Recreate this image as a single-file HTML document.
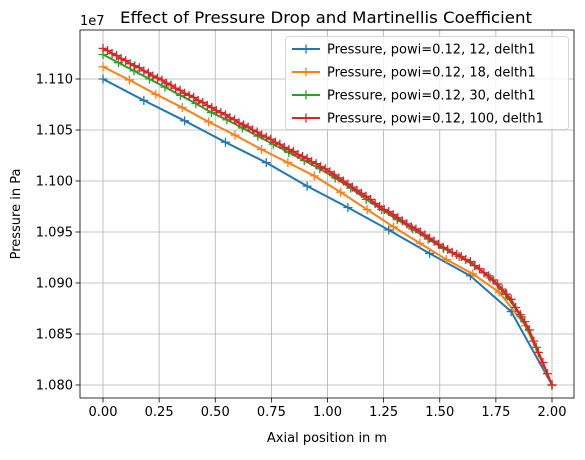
<!DOCTYPE html>
<html><head><meta charset="utf-8"><style>
body{margin:0;background:#fff;}
svg text{font-family:"DejaVu Sans","Liberation Sans",sans-serif;fill:#000;}
</style></head><body>
<svg id="chart" width="585" height="455" viewBox="0 0 585 455" xmlns="http://www.w3.org/2000/svg">
<rect width="585" height="455" fill="#fff"/>
<g id="grid"></g>
<g id="series"></g>
<g id="axes"></g>
<text x="326" y="23" text-anchor="middle" font-size="16" textLength="412" lengthAdjust="spacingAndGlyphs">Effect of Pressure Drop and Martinellis Coefficient</text>
<text x="327" y="442" text-anchor="middle" font-size="13">Axial position in m</text>
<text transform="translate(20,214) rotate(-90)" text-anchor="middle" font-size="13">Pressure in Pa</text>
<text x="80" y="25" font-size="13">1e7</text>
<g id="legend"></g>
</svg>
<script>
const xTicks=[0,0.25,0.5,0.75,1.0,1.25,1.5,1.75,2.0];
const xTickLabels=["0.00","0.25","0.50","0.75","1.00","1.25","1.50","1.75","2.00"];
const yTicks=[1.080,1.085,1.090,1.095,1.100,1.105,1.110];
const yTickLabels=["1.080","1.085","1.090","1.095","1.100","1.105","1.110"];
const seriesNames=["Pressure, powi=0.12, 12, delth1","Pressure, powi=0.12, 18, delth1","Pressure, powi=0.12, 30, delth1","Pressure, powi=0.12, 100, delth1"];
const seriesColors=["#1f77b4","#ff7f0e","#2ca02c","#d62728"];
const blueVals=[1.1100,1.1079,1.1059,1.1038,1.1018,1.0995,1.0974,1.0952,1.0929,1.0907,1.0872,1.0800];
const orangeVals=[1.1112,1.1099,1.1085,1.1072,1.1058,1.1045,1.1031,1.1018,1.1005,1.0989,1.0972,1.0955,1.0939,1.0923,1.0909,1.0891,1.0858,1.0800];
const greenVals=[1.1124,1.1116,1.1108,1.1100,1.1092,1.1084,1.1076,1.1067,1.1060,1.1052,1.1044,1.1036,1.1028,1.1020,1.1012,1.1003,1.0993,1.0982,1.0972,1.0962,1.0953,1.0943,1.0934,1.0926,1.0917,1.0905,1.0889,1.0867,1.0837,1.0800];
const redVals=[1.1130,1.1128,1.1125,1.1123,1.1120,1.1118,1.1115,1.1113,1.1111,1.1108,1.1106,1.1103,1.1101,1.1099,1.1096,1.1094,1.1091,1.1089,1.1086,1.1084,1.1082,1.1079,1.1077,1.1074,1.1072,
1.1069,1.1067,1.1065,1.1062,1.1060,1.1057,1.1055,1.1053,1.1050,1.1048,1.1045,1.1043,1.1041,1.1038,1.1036,1.1033,1.1031,1.1029,1.1026,1.1024,1.1022,1.1019,1.1017,1.1014,1.1012,
1.1009,1.1006,1.1003,1.1000,1.0997,1.0994,1.0991,1.0988,1.0985,1.0982,1.0978,1.0975,1.0972,1.0970,1.0967,1.0964,1.0961,1.0958,1.0955,1.0953,1.0950,1.0947,1.0944,1.0941,1.0938,
1.0935,1.0933,1.0930,1.0928,1.0926,1.0923,1.0921,1.0917,1.0914,1.0910,1.0907,1.0903,1.0899,1.0894,1.0889,1.0884,1.0876,1.0869,1.0862,1.0854,1.0843,1.0832,1.0822,1.0811,1.0800];
const xStart=0, xEnd=2.0;

const L=80,R=574,T=30,B=398;
function xs(v){return 103+(v-0)/(2.0)*449;}
function ys(v){return 385-(v-1.080)/0.005*51;}
const NS="http://www.w3.org/2000/svg";
function mk(tag,attrs,parent){const e=document.createElementNS(NS,tag);for(const k in attrs)e.setAttribute(k,attrs[k]);parent.appendChild(e);return e;}
const grid=document.getElementById('grid'),axes=document.getElementById('axes'),ser=document.getElementById('series'),leg=document.getElementById('legend');
xTicks.forEach((t,i)=>{
  const x=xs(t);
  const g=mk('line',{x1:x,x2:x,y1:T,y2:B,stroke:'#b0b0b0','stroke-width':0.8},grid);
  
  
  const tk=mk('line',{x1:x,x2:x,y1:B,y2:B+4.5,stroke:'#000','stroke-width':0.8},axes);
  
  
  const lb=mk('text',{x:x,y:B+18,'text-anchor':'middle','font-size':13},axes);
  lb.textContent=xTickLabels[i];
  
  
});
yTicks.forEach((t,i)=>{
  const y=ys(t);
  const g=mk('line',{x1:L,x2:R,y1:y,y2:y,stroke:'#b0b0b0','stroke-width':0.8},grid);
  
  
  const tk=mk('line',{x1:L-4.5,x2:L,y1:y,y2:y,stroke:'#000','stroke-width':0.8},axes);
  
  
  const lb=mk('text',{x:L-7,y:y+4.5,'text-anchor':'end','font-size':13},axes);
  lb.textContent=yTickLabels[i];
  
  
});
const fr=mk('rect',{x:L,y:T,width:R-L,height:B-T,fill:'none',stroke:'#000','stroke-width':0.8},axes);


const allSeries=[blueVals,orangeVals,greenVals,redVals];
allSeries.forEach((vals,s)=>{
  const n=vals.length;
  const pts=vals.map((v,i)=>[xs(xStart+(xEnd-xStart)*i/(n-1)),ys(v)]);
  const g=mk('g',{},ser);
  
  
  const pl=mk('polyline',{points:pts.map(p=>p.join(',')).join(' '),fill:'none',stroke:seriesColors[s],'stroke-width':2},g);
  
  
  pts.forEach(p=>{
    const m=mk('path',{d:`M${p[0]-4.5},${p[1]}H${p[0]+4.5}M${p[0]},${p[1]-4.5}V${p[1]+4.5}`,stroke:seriesColors[s],'stroke-width':1.3,fill:'none'},g);
    
    
  });
});
const lb=mk('rect',{x:285.5,y:36.5,width:283,height:93,rx:3,fill:'#fff','fill-opacity':0.8,stroke:'#ccc','stroke-width':0.8},leg);


seriesNames.forEach((nm,s)=>{
  const y=49+s*23;
  const g=mk('g',{},leg);
  
  
  mk('line',{x1:292,x2:320,y1:y,y2:y,stroke:seriesColors[s],'stroke-width':2},g);
  mk('path',{d:`M301.5,${y}H310.5M306,${y-4.5}V${y+4.5}`,stroke:seriesColors[s],'stroke-width':1.3},g);
  const t=mk('text',{x:327,y:y+4.5,'font-size':13},g);
  t.textContent=nm;
});
</script>
</body></html>
